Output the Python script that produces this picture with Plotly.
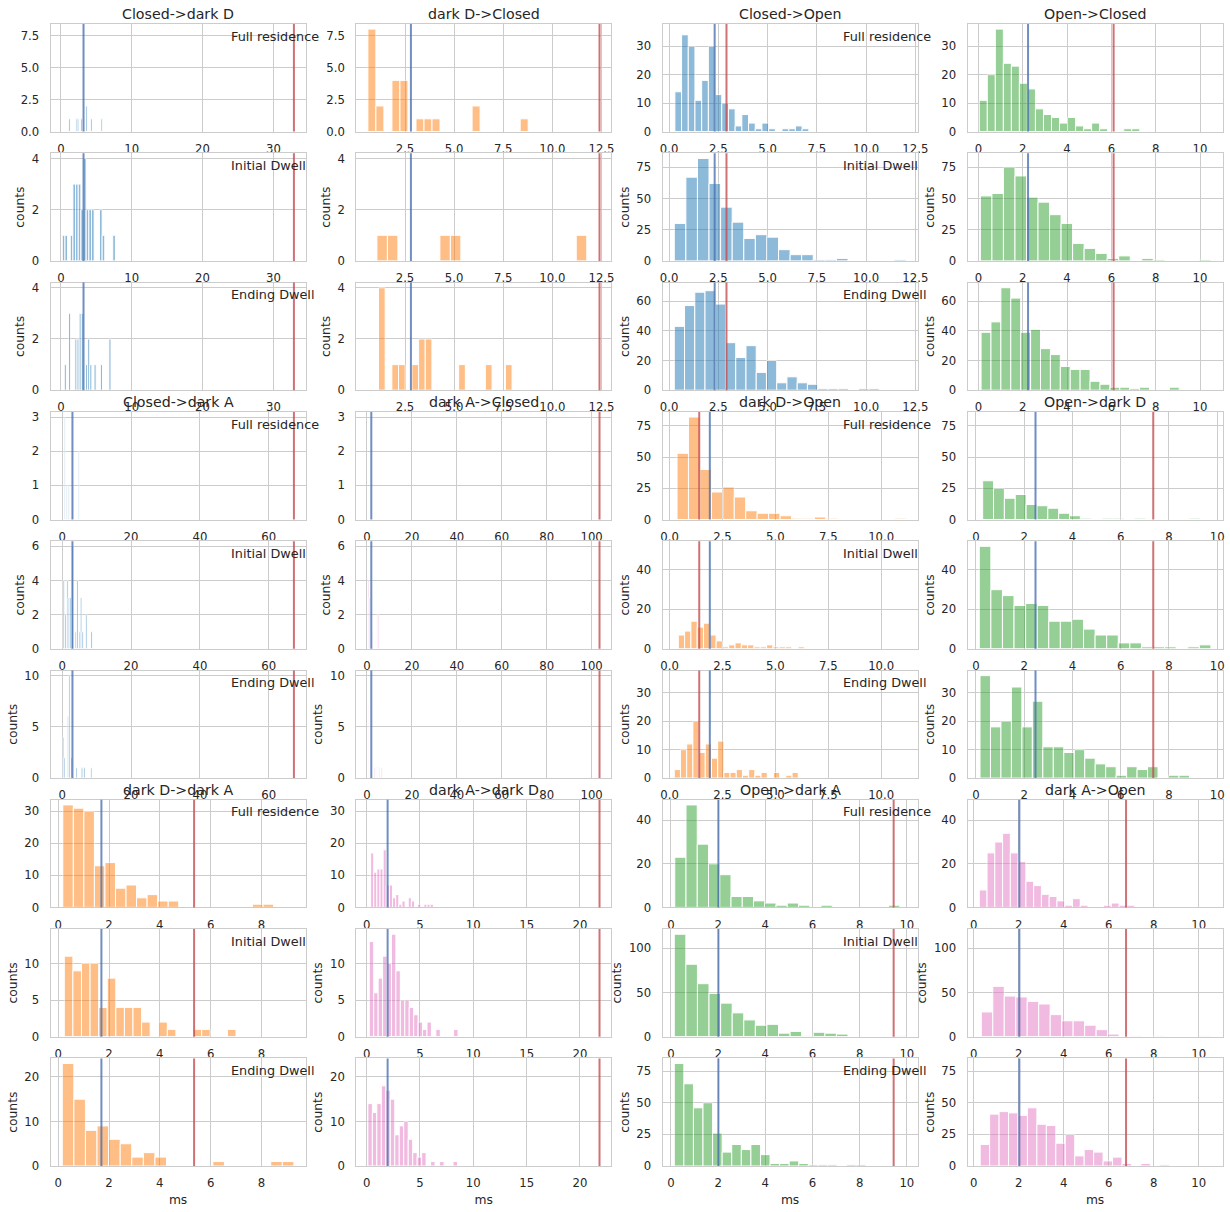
import plotly.graph_objects as go

W, H = 1230, 1212

transitions = ["Closed->dark D", "dark D->Closed", "Closed->Open", "Open->Closed",
               "Closed->dark A", "dark A->Closed", "dark D->Open", "Open->dark D",
               "dark D->dark A", "dark A->dark D", "Open->dark A", "dark A->Open"]
dwell_kinds = ["Full residence", "Initial Dwell", "Ending Dwell"]
bar_colors = ["#1f77b4", "#ff7f0e", "#1f77b4", "#2ca02c",
              "#1f77b4", "#e377c2", "#ff7f0e", "#2ca02c",
              "#ff7f0e", "#e377c2", "#2ca02c", "#e377c2"]
blue_line = [3.2, 2.8, 2.31, 2.24, 3.0, 1.92, 1.9, 2.47, 1.7, 1.97, 2.01, 2.03]
red_line = [32.9, 12.4, 2.91, 6.1, 67.3, 103.5, 1.4, 7.35, 5.35, 21.83, 9.44, 6.77]

# (first bin edge, bin width) for Full residence / Initial Dwell / Ending Dwell
bins_closed_darkD = [(1.1, 0.24), (0.2, 0.375), (0.48, 0.3)]
counts_closed_darkD = [
    [1, 0, 0, 0, 1, 1, 0, 1, 0, 0, 2, 0, 0, 1, 0, 0, 0, 0, 0, 1],
    [1, 1, 0, 1, 3, 3, 3, 2, 4, 2, 2, 2, 0, 0, 2, 1, 0, 0, 0, 1],
    [1, 0, 3, 0, 0, 2, 2, 3, 3, 0, 1, 2, 1, 0, 1, 0, 0, 1, 0, 0, 0, 2]]

bins_darkD_closed = [(0.61, 0.408), (1.07, 0.534), (1.15, 0.34)]
counts_darkD_closed = [
    [8, 2, 0, 4, 4, 0, 1, 1, 1, 0, 0, 0, 0, 2, 0, 0, 0, 0, 0, 1],
    [1, 1, 0, 0, 0, 0, 1, 1, 0, 0, 0, 0, 0, 0, 0, 0, 0, 0, 0, 1],
    [4, 0, 1, 1, 0, 1, 2, 2, 0, 0, 0, 0, 1, 0, 0, 0, 1, 0, 0, 1]]

bins_closed_open = [(0.29, 0.34), (0.26, 0.588), (0.26, 0.52)]
counts_closed_open = [
    [14, 34, 30, 11, 18, 30, 13, 10, 8, 2, 6, 3, 1, 3, 1, 0, 1, 1, 2, 1],
    [30, 67, 82, 62, 43, 31, 18, 21, 19, 9, 5, 5, 1, 1, 2, 0, 0, 0, 0, 1],
    [43, 57, 66, 67, 58, 32, 22, 30, 12, 20, 5, 9, 5, 4, 1, 1, 1, 0, 1, 1]]

bins_open_closed = [(0.04, 0.362), (0.09, 0.52), (0.12, 0.447)]
counts_open_closed = [
    [11, 20, 36, 24, 23, 17, 15, 8, 6, 5, 3, 5, 2, 1, 3, 1, 0, 0, 1, 1],
    [52, 54, 75, 68, 51, 47, 37, 30, 14, 10, 6, 2, 4, 0, 2, 1, 0, 0, 0, 1],
    [39, 46, 69, 62, 39, 41, 28, 24, 16, 14, 14, 6, 4, 2, 2, 1, 2, 0, 0, 2]]

bins_closed_darkA = [(0.6, 0.29), (0.25, 0.5), (0.05, 0.48)]
counts_closed_darkA = [
    [3, 0, 1, 0, 1, 0, 0, 0, 1, 0, 0, 0, 0, 0, 2],
    [4, 2, 4, 3, 3, 6, 0, 1, 4, 1, 3, 1, 0, 2, 0, 0, 1],
    [4, 2, 0, 6, 10, 2, 0, 0, 1, 0, 0, 1, 1, 1, 0, 0, 0, 1]]

bins_darkA_closed = [(0.5, 1.0), (0.4, 0.5), (0.62, 0.51)]
counts_darkA_closed = [
    [],
    [4, 3, 0, 0, 1, 0, 0, 0, 2, 2],
    [7, 0, 0, 0, 0, 1, 0, 1, 0, 1, 0, 1]]

bins_darkD_open = [(0.35, 0.541), (0.41, 0.298), (0.22, 0.293)]
counts_darkD_open = [
    [53, 82, 40, 22, 26, 18, 7, 5, 5, 3, 1, 1, 2, 1, 0, 0, 0, 0, 0, 1],
    [7, 9, 14, 11, 13, 7, 4, 1, 2, 3, 2, 2, 1, 1, 2, 1, 1, 1, 0, 1],
    [3, 10, 12, 20, 9, 12, 7, 13, 2, 2, 3, 1, 3, 1, 2, 0, 2, 0, 1, 2]]

bins_open_darkD = [(0.28, 0.45), (0.14, 0.48), (0.17, 0.434)]
counts_open_darkD = [
    [31, 25, 17, 20, 12, 11, 9, 5, 3, 1, 0, 1, 1, 0, 1, 0, 0, 0, 0, 1],
    [52, 30, 27, 22, 23, 22, 14, 14, 15, 10, 7, 7, 3, 3, 1, 1, 1, 0, 1, 2],
    [36, 18, 20, 32, 18, 27, 11, 11, 9, 10, 7, 5, 4, 1, 4, 3, 4, 0, 1, 1]]

bins_darkD_darkA = [(0.18, 0.415), (0.24, 0.338), (0.16, 0.456)]
counts_darkD_darkA = [
    [32, 31, 30, 13, 14, 6, 7, 3, 4, 2, 2, 0, 0, 0, 0, 0, 0, 0, 1, 1],
    [11, 9, 10, 10, 4, 8, 4, 4, 4, 2, 0, 2, 1, 0, 0, 1, 1, 0, 0, 1],
    [23, 15, 8, 9, 6, 5, 2, 3, 2, 0, 0, 0, 0, 1, 0, 0, 0, 0, 1, 1]]

bins_darkA_darkD = [(0.375, 0.294), (0.25, 0.416), (0.12, 0.42)]
counts_darkA_darkD = [
    [17, 11, 12, 12, 18, 7, 7, 3, 4, 1, 2, 0, 3, 2, 0, 1, 0, 1, 1, 1],
    [13, 6, 8, 11, 10, 14, 9, 5, 5, 4, 3, 2, 1, 2, 0, 1, 0, 0, 0, 1],
    [14, 12, 14, 18, 17, 15, 7, 9, 10, 6, 3, 2, 3, 0, 1, 0, 1, 0, 0, 1]]

bins_open_darkA = [(0.16, 0.477), (0.14, 0.491), (0.14, 0.406)]
counts_open_darkA = [
    [23, 47, 29, 20, 15, 5, 5, 3, 2, 1, 2, 1, 0, 1, 0, 0, 0, 0, 0, 1],
    [116, 82, 60, 49, 38, 27, 19, 13, 14, 4, 6, 1, 5, 4, 3, 0, 0, 0, 0, 1],
    [81, 65, 46, 50, 26, 11, 17, 13, 17, 9, 2, 2, 4, 2, 1, 1, 1, 0, 1, 1]]

bins_darkA_open = [(0.25, 0.345), (0.34, 0.51), (0.29, 0.42)]
counts_darkA_open = [
    [8, 25, 30, 34, 25, 21, 12, 10, 6, 5, 3, 1, 4, 1, 0, 0, 1, 2, 1, 1],
    [28, 57, 46, 45, 40, 37, 25, 18, 18, 13, 8, 3, 0, 1, 0, 1, 0, 0, 0, 1],
    [17, 41, 43, 42, 40, 46, 33, 32, 18, 25, 8, 13, 11, 4, 7, 2, 0, 2, 0, 1]]

all_bins = [bins_closed_darkD, bins_darkD_closed, bins_closed_open, bins_open_closed,
            bins_closed_darkA, bins_darkA_closed, bins_darkD_open, bins_open_darkD,
            bins_darkD_darkA, bins_darkA_darkD, bins_open_darkA, bins_darkA_open]
all_counts = [counts_closed_darkD, counts_darkD_closed, counts_closed_open, counts_open_closed,
              counts_closed_darkA, counts_darkA_closed, counts_darkD_open, counts_open_darkD,
              counts_darkD_darkA, counts_darkA_darkD, counts_open_darkA, counts_darkA_open]

xtick_labels = [["0", "10", "20", "30"], ["2.5", "5.0", "7.5", "10.0", "12.5"],
                ["0.0", "2.5", "5.0", "7.5", "10.0", "12.5"], ["0", "2", "4", "6", "8", "10"],
                ["0", "20", "40", "60"], ["0", "20", "40", "60", "80", "100"],
                ["0.0", "2.5", "5.0", "7.5", "10.0"], ["0", "2", "4", "6", "8", "10"],
                ["0", "2", "4", "6", "8"], ["0", "5", "10", "15", "20"],
                ["0", "2", "4", "6", "8", "10"], ["0", "2", "4", "6", "8", "10"]]
ytick_left = [["0.0", "2.5", "5.0", "7.5"], ["0", "2", "4"], ["0", "2", "4"],
              ["0", "1", "2", "3"], ["0", "2", "4", "6"], ["0", "5", "10"],
              ["0", "10", "20", "30"], ["0", "5", "10"], ["0", "10", "20"]]
ytick_right = [["0", "10", "20", "30"], ["0", "25", "50", "75"], ["0", "20", "40", "60"],
               ["0", "25", "50", "75"], ["0", "20", "40"], ["0", "10", "20", "30"],
               ["0", "20", "40"], ["0", "50", "100"], ["0", "25", "50", "75"]]

# ---- layout geometry (pixels) ----
lefts = [50.7, 356.3, 662.7, 967.7]
panel_w = 254.8
top0, pitch, panel_h = 24.0, 129.3, 107.6
TXT = "#262626"
FONT = "DejaVu Sans"

fig = go.Figure()
layout = dict(width=W, height=H, margin=dict(l=0, r=0, t=0, b=0),
              paper_bgcolor="white", plot_bgcolor="white", template="none",
              font=dict(family=FONT, color=TXT), barmode="overlay", showlegend=False)
annotations, shapes = [], []

for g in range(3):
    for c in range(4):
        t = g * 4 + c
        bins, counts = all_bins[t], all_counts[t]
        lows = [b[0] for b, cn in zip(bins, counts) if cn] + [blue_line[t], red_line[t]]
        highs = [b[0] + b[1] * len(cn) for b, cn in zip(bins, counts) if cn] + [blue_line[t], red_line[t]]
        lo, hi = min(lows), max(highs)
        pad = 0.05 * (hi - lo)
        xr = [lo - pad, hi + pad]
        pair = c // 2
        for kind in range(3):
            r = g * 3 + kind
            k = r * 4 + c + 1
            sx = "" if k == 1 else str(k)
            xn, yn = "x" + sx, "y" + sx
            ymax = 0
            for tt in (g * 4 + 2 * pair, g * 4 + 2 * pair + 1):
                cn2 = all_counts[tt][kind]
                if cn2:
                    ymax = max(ymax, max(cn2))
            yr = [0, 1.05 * ymax]
            x0, bw = bins[kind]
            cn = counts[kind]
            xs = [x0 + (i + 0.5) * bw for i, v in enumerate(cn) if v > 0]
            ys = [v for v in cn if v > 0]
            if ys:
                fig.add_trace(go.Bar(x=xs, y=ys, width=[bw] * len(xs),
                                     xaxis=xn, yaxis=yn,
                                     marker=dict(color=bar_colors[t], line=dict(color="white", width=1)),
                                     opacity=0.5, hoverinfo="skip"))
            left = lefts[c]
            top = top0 + r * pitch
            bottom = top + panel_h
            xdom = [left / W, (left + panel_w) / W]
            ydom = [1 - bottom / H, 1 - top / H]
            xl = xtick_labels[t]
            yl = (ytick_left if pair == 0 else ytick_right)[r]
            common = dict(showgrid=True, gridcolor="#cccccc", gridwidth=1,
                          showline=True, linecolor="#cccccc", linewidth=1.25, mirror=True,
                          ticks="", zeroline=False, fixedrange=True,
                          tickfont=dict(size=11.7, color=TXT, family=FONT))
            xa = dict(common, domain=xdom, anchor=yn, range=xr, tickmode="array",
                      tickvals=[float(s) for s in xl], ticktext=xl, ticklabelstandoff=6)
            ya = dict(common, domain=ydom, anchor=xn, range=yr, tickmode="array",
                      tickvals=[float(s) for s in yl], ticktext=yl, ticklabelstandoff=8)
            if kind > 0:
                ya["title"] = dict(text="counts", font=dict(size=12.3, color=TXT, family=FONT), standoff=4)
            if r == 8:
                xa["title"] = dict(text="ms", font=dict(size=12.3, color=TXT, family=FONT), standoff=6)
            layout["xaxis" + sx] = xa
            layout["yaxis" + sx] = ya
            for val, colr in ((blue_line[t], "rgba(76,114,176,0.8)"), (red_line[t], "rgba(196,78,82,0.8)")):
                shapes.append(dict(type="line", xref=xn, yref=yn + " domain",
                                   x0=val, x1=val, y0=0, y1=1, layer="above",
                                   line=dict(color=colr, width=2)))
            if kind == 0:
                annotations.append(dict(text=transitions[t], xref="paper", yref="paper",
                                        x=(left + panel_w / 2) / W, y=1 - top / H,
                                        xanchor="center", yanchor="middle", yshift=10,
                                        showarrow=False, font=dict(size=14.2, color=TXT, family=FONT)))
            if c in (0, 2):
                annotations.append(dict(text=dwell_kinds[kind], xref=xn + " domain", yref=yn + " domain",
                                        x=0.7, y=0.887, xanchor="left", yanchor="middle",
                                        showarrow=False, font=dict(size=12.8, color=TXT, family=FONT)))

layout["annotations"] = annotations
layout["shapes"] = shapes
fig.update_layout(**layout)
fig.write_html("out.html")
